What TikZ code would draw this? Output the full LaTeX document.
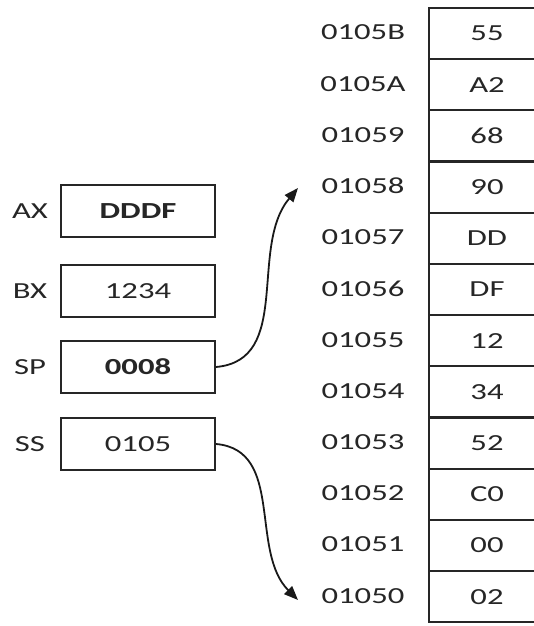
\documentclass[tikz,border=0pt]{standalone}
\usepackage{fontspec}
\setmainfont{Carlito}[FakeStretch=1.42]
\usetikzlibrary{arrows.meta}
\begin{document}
\begin{tikzpicture}[x=1pt,y=1pt,
  txt/.style={font=\fontsize{23}{26}\selectfont, text=black!85, inner sep=0pt},
  reg/.style={txt, draw=black!85, line width=2pt, minimum width=154pt, minimum height=52pt},
  memcell/.style={txt, draw=black!85, line width=2.2pt, minimum width=116pt, minimum height=51.2pt},
  link/.style={line width=1.8pt, black!90, -{Triangle[length=14pt,width=11pt]}}
]
\useasboundingbox (0,0) rectangle (534,626);
\clip (0,0) rectangle (534,626);
% registers
\node[reg] (ax) at (138,415) {\bfseries DDDF};
\node[reg] (bx) at (138,335) {1234};
\node[reg] (sp) at (138,259) {\bfseries 0008};
\node[reg] (ss) at (138,182) {0105};
\node[txt] (axl) at (30,415) {AX};
\node[txt] (bxl) at (30,335) {BX};
\node[txt] (spl) at (30,259) {SP};
\node[txt] (ssl) at (30,182) {SS};
% memory
\foreach \i/\a/\v in {0/0105B/55,1/0105A/A2,2/01059/68,3/01058/90,4/01057/DD,5/01056/DF,6/01055/12,7/01054/34,8/01053/52,9/01052/C0,10/01051/00,11/01050/02}{
  \node[memcell] (m\i) at (487,{618-51.2*(\i+0.5)}) {\v};
  \node[txt] (a\i) at (363,{618-51.2*(\i+0.5)+1}) {\a};
}
\coordinate (t1) at (298,438);
\coordinate (t2) at (298,26);
\draw[link] (sp.east) to[out=5,in=230] (t1);
\draw[link] (ss.east) to[out=-5,in=135] (t2);
\end{tikzpicture}
\end{document}
